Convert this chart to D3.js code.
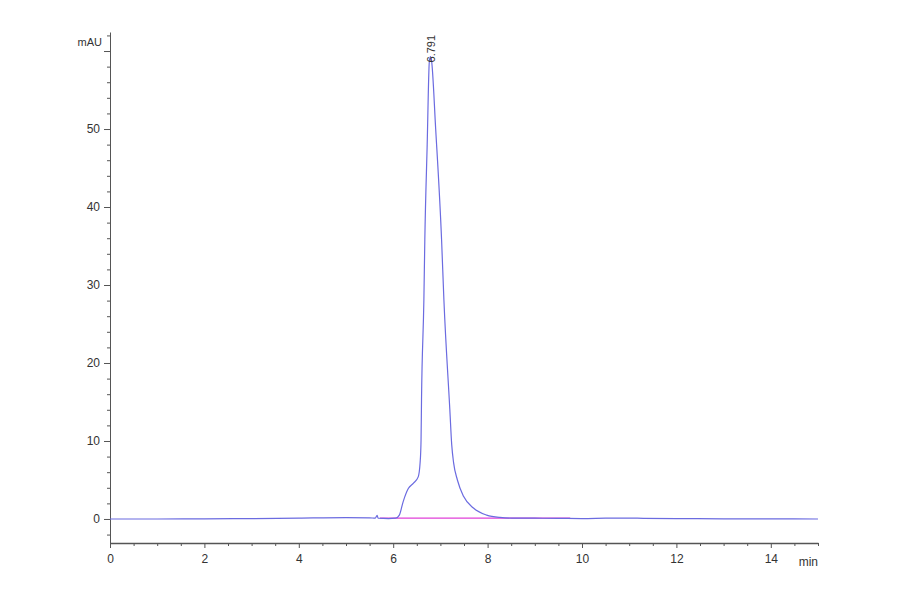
<!DOCTYPE html>
<html><head><meta charset="utf-8">
<script src="https://cdn.jsdelivr.net/npm/d3@7"></script>
<style>body{margin:0;background:#fff;}svg{display:block;font-family:"Liberation Sans",Arial,sans-serif;}</style>
</head><body>
<svg id="chart" width="900" height="594"></svg>
<script>
// Retention times (min)
const times = [0,1,2,3,4,5,5.5,5.62,5.66,5.68,5.9,6.05,6.13,6.21,6.32,6.43,6.53,6.57,6.59,6.6,6.65,6.67,6.72,6.765,6.79,6.81,6.9,7.025,7.074,7.2,7.24,7.28,7.36,7.49,7.7,7.98,8.26,8.6,9,9.5,10,10.5,11,11.3,12,13,14,15];
// Absorbance (mAU)
const signal = [0,0,0.02,0.05,0.12,0.18,0.15,0.1,0.45,0.1,0.05,0.1,0.5,2.2,3.9,4.6,5.4,7.2,10.1,15.3,28.1,35.8,48,58.6,59.3,58.9,50,35.8,28.1,14,9.5,7.2,5,2.9,1.4,0.5,0.2,0.1,0.1,0.08,0.05,0.1,0.12,0.08,0.05,0.02,0.01,0];
// Integration baseline
const baseTimes = [5.72, 9.75];
const baseValues = [0.1, 0.1];
// Peak annotation
const peakTimes = [6.791];
const peakLabels = ["6.791"];
const peakHeights = [59.3];
// Axis ticks
const xMajor = [0,2,4,6,8,10,12,14];
const yMajor = [0,10,20,30,40,50,60];

const svg = d3.select("#chart");
const x = d3.scaleLinear().domain([0,15]).range([110,818]);
const y = d3.scaleLinear().domain([-3.08,62.44]).range([543,32]);
const axisColor = "#555";

// X axis
const xMinor = d3.range(0,15.01,0.5).filter(v=>!xMajor.includes(v));
const gx = svg.append("g").attr("transform",`translate(0,${y.range()[0]})`);
gx.call(d3.axisBottom(x).tickValues(xMinor).tickSize(3).tickFormat(""));
gx.call(g=>g.select(".domain").remove());
const gx2 = svg.append("g").attr("transform",`translate(0,${y.range()[0]})`);
gx2.call(d3.axisBottom(x).tickValues(xMajor).tickSize(5).tickSizeOuter(0).tickPadding(6).tickFormat(d3.format("d")));
svg.selectAll("g line, g path").attr("stroke",axisColor);
gx2.selectAll("text").attr("font-size",12).attr("fill","#333");
gx2.select(".domain").attr("stroke-width",1.5);
svg.append("text").attr("x",818).attr("y",566).attr("text-anchor","end").attr("font-size",12).attr("fill","#333").text("min");

// Y axis
const yMinor = d3.range(-2,62.1,2).filter(v=>!yMajor.includes(v));
const gy = svg.append("g").attr("transform",`translate(${x.range()[0]},0)`);
gy.call(d3.axisLeft(y).tickValues(yMinor).tickSize(3).tickFormat(""));
gy.call(g=>g.select(".domain").remove());
const gy2 = svg.append("g").attr("transform",`translate(${x.range()[0]},0)`);
gy2.call(d3.axisLeft(y).tickValues(yMajor).tickSize(6).tickSizeOuter(0).tickPadding(4).tickFormat(d=>d===60?"":d));
svg.selectAll("g line, g path").attr("stroke",axisColor);
gy2.selectAll("text").attr("font-size",12).attr("fill","#333");
svg.append("text").attr("x",102).attr("y",46).attr("text-anchor","end").attr("font-size",11).attr("fill","#333").text("mAU");

// Baseline (integration)
const pts = times.map((t,i)=>[t,signal[i]]);
svg.append("path")
  .datum(baseTimes.map((t,i)=>[t,baseValues[i]]))
  .attr("fill","none").attr("stroke","#e040d8").attr("stroke-width",1.3)
  .attr("d",d3.line().x(d=>x(d[0])).y(d=>y(d[1])));

// Signal trace
svg.append("path")
  .datum(pts)
  .attr("fill","none").attr("stroke","#6b6be0").attr("stroke-width",1.2)
  .attr("d",d3.line().curve(d3.curveMonotoneX).x(d=>x(d[0])).y(d=>y(d[1])));

// Peak label
peakTimes.forEach((t,i)=>{
  const px = x(t), py = y(peakHeights[i]) + 6;
  svg.append("text").attr("transform",`translate(${px+4},${py}) rotate(-90)`)
    .attr("font-size",11).attr("fill","#333").text(peakLabels[i]);
});
</script>
</body></html>
